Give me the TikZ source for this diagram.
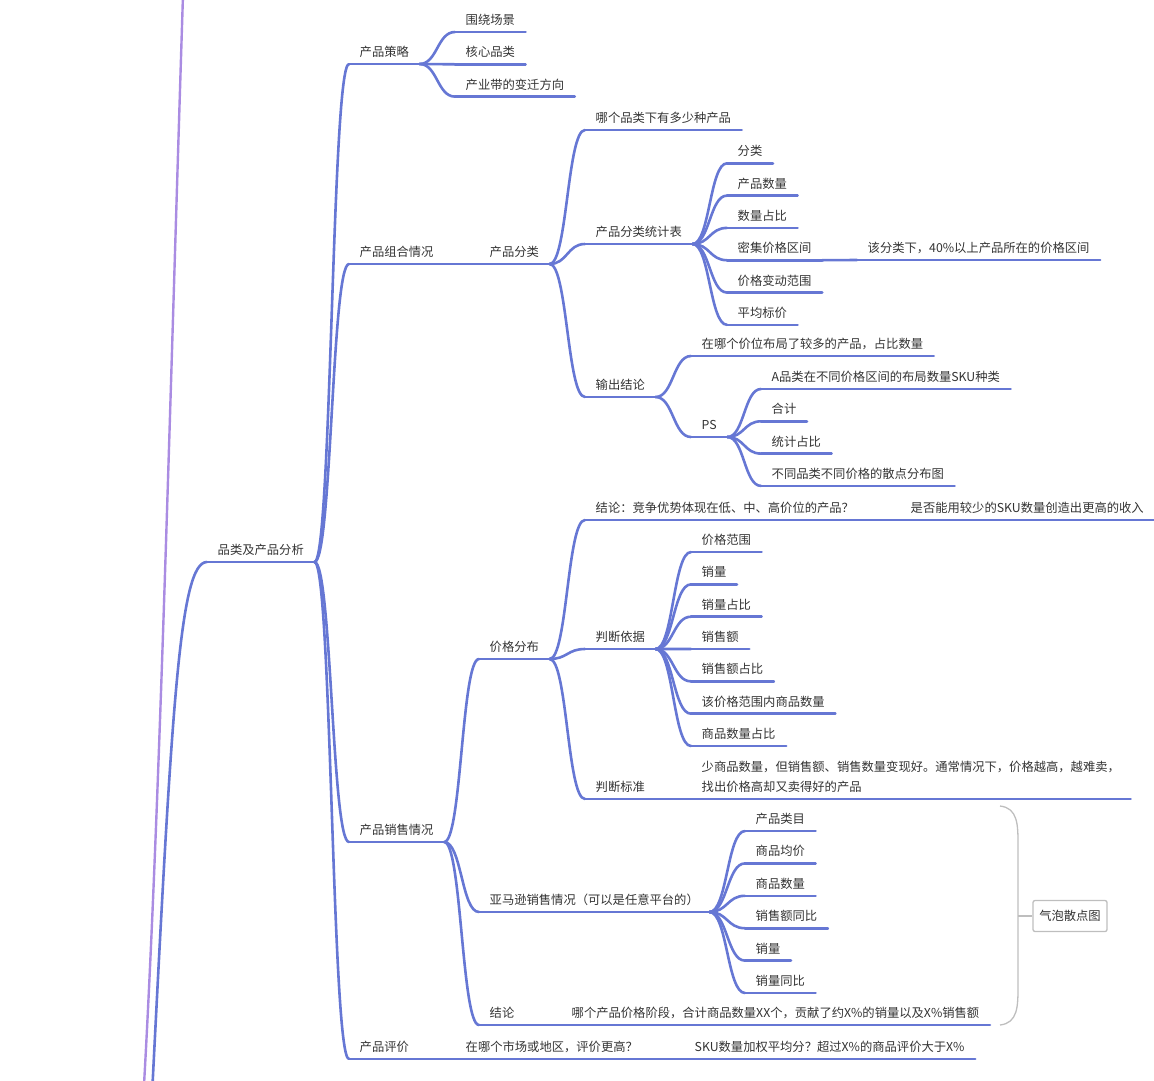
\documentclass[tikz,border=0pt]{standalone}
\usepackage{fontspec}
\newfontfamily\cjkfont{Noto Sans CJK SC}
\usetikzlibrary{calc}
\definecolor{branchblue}{RGB}{102,119,212}
\definecolor{trunkpurple}{RGB}{170,140,226}
\definecolor{textgray}{RGB}{51,51,51}
\definecolor{bracegray}{RGB}{190,190,190}
\tikzset{
  topic/.style={anchor=south west, inner xsep=10.5pt, inner ysep=0pt,
    text height=10pt, text depth=7.3pt, text=textgray,
    font=\cjkfont\fontsize{12.3}{20}\selectfont},
  topicmulti/.style={topic, align=left, text height={}, text depth={}, inner ysep=5.8pt},
  underline/.style={draw=branchblue, line width=2.6pt, line cap=round},
  branch/.style={underline,
    to path={.. controls ($(\tikztostart)!0.5!(\tikztotarget|-\tikztostart)$)
      and ($(\tikztotarget)!0.5!(\tikztostart|-\tikztotarget)$) .. (\tikztotarget)}},
  trunk/.style={draw=trunkpurple, line width=2.4pt},
  bubblebox/.style={draw=bracegray, line width=1.3pt, rounded corners=2pt,
    minimum width=74pt, minimum height=31pt, inner sep=0pt, text=textgray,
    font=\cjkfont\fontsize{12.3}{15}\selectfont},
}

\begin{document}
\begin{tikzpicture}[x=1pt,y=-1pt]
    \useasboundingbox (0,0) rectangle (1154,1080);

    % main topics
    \node[topic] (root)   at (207,562)  {品类及产品分析};
    \node[topic] (strat)  at (349,64)   {产品策略};
    \node[topic] (combo)  at (349,264)  {产品组合情况};
    \node[topic] (sales)  at (349,842)  {产品销售情况};
    \node[topic] (review) at (349,1059) {产品评价};

    % product strategy
    \foreach \t [count=\i] in {围绕场景,核心品类,产业带的变迁方向}
        \node[topic] (s\i) at (455,{-0.3+32.3*\i}) {\t};

    % product mix
    \node[topic] (cls)   at (479,264) {产品分类};
    \node[topic] (q1)    at (585,130) {哪个品类下有多少种产品};
    \node[topic] (table) at (585,244) {产品分类统计表};
    \node[topic] (out)   at (585,397) {输出结论};
    \foreach \t [count=\i] in {分类,产品数量,数量占比,密集价格区间,价格变动范围,平均标价}
        \node[topic] (t\i) at (727,{131+32.3*\i}) {\t};
    \node[topic] (dense) at (857,260) {该分类下，40\%以上产品所在的价格区间};
    \node[topic] (o1) at (691,356) {在哪个价位布局了较多的产品，占比数量};
    \node[topic] (ps) at (691,437) {PS};
    \foreach \t [count=\i] in {A品类在不同价格区间的布局数量SKU种类,合计,统计占比,不同品类不同价格的散点分布图}
        \node[topic] (p\i) at (761,{356.7+32.3*\i}) {\t};

    % product sales
    \node[topic] (price)  at (479,659)  {价格分布};
    \node[topic] (amazon) at (479,912)  {亚马逊销售情况（可以是任意平台的）};
    \node[topic] (concl)  at (479,1025) {结论};
    \node[topic] (cnote)  at (561,1025) {哪个产品价格阶段，合计商品数量XX个，贡献了约X\%的销量以及X\%销售额};
    \node[topic] (c1)     at (585,520)  {结论：竞争优势体现在低、中、高价位的产品？};
    \node[topic] (c2)     at (900,520)  {是否能用较少的SKU数量创造出更高的收入};
    \node[topic] (basis)  at (585,649)  {判断依据};
    \node[topic] (crit)   at (585,799)  {判断标准};
    \node[topicmulti] (critnote) at (691,799)
        {少商品数量，但销售额、销售数量变现好。通常情况下，价格越高，越难卖，\\找出价格高却又卖得好的产品};
    \foreach \t [count=\i] in {价格范围,销量,销量占比,销售额,销售额占比,该价格范围内商品数量,商品数量占比}
        \node[topic] (b\i) at (691,{519.7+32.33*\i}) {\t};
    \foreach \t [count=\i] in {产品类目,商品均价,商品数量,销售额同比,销量,销量同比}
        \node[topic] (a\i) at (745,{798.6+32.4*\i}) {\t};

    % product review
    \node[topic] (r1) at (455,1059) {在哪个市场或地区，评价更高？};
    \node[topic] (r2) at (684,1059) {SKU数量加权平均分？超过X\%的商品评价大于X\%};

    % summary
    \node[bubblebox] (bubble) at (1070,916) {气泡散点图};

    % underlines
    \foreach \n in {root,strat,combo,sales,review,cls,q1,table,out,dense,o1,ps,
                    price,amazon,concl,cnote,c1,c2,basis,crit,critnote,r1,r2,
                    s1,s2,s3,t1,t2,t3,t4,t5,t6,p1,p2,p3,p4,
                    b1,b2,b3,b4,b5,b6,b7,a1,a2,a3,a4,a5,a6}
        \draw[underline] (\n.south west) -- (\n.south east);

    % off-canvas trunks
    \coordinate (topin)  at (183,-5);
    \coordinate (topout) at (144,1085);
    \coordinate (rootin) at (152,1095);
    \draw[trunk] (topin) .. controls (170,400) and (160,800) .. (topout);
    \draw[underline] (rootin) .. controls (172,700) and (180,562) .. (root.south west);

    % branches
    \foreach \c in {strat,combo,sales,review}
        \draw[branch] (root.south east) to (\c.south west);
    \foreach \i in {1,2,3}
        \draw[branch] (strat.south east) to (s\i.south west);
    \draw[branch] (combo.south east) to (cls.south west);
    \foreach \c in {q1,table,out}
        \draw[branch] (cls.south east) to (\c.south west);
    \foreach \i in {1,...,6}
        \draw[branch] (table.south east) to (t\i.south west);
    \draw[branch] (t4.south east) to (dense.south west);
    \foreach \c in {o1,ps}
        \draw[branch] (out.south east) to (\c.south west);
    \foreach \i in {1,...,4}
        \draw[branch] (ps.south east) to (p\i.south west);
    \foreach \c in {price,amazon,concl}
        \draw[branch] (sales.south east) to (\c.south west);
    \draw[branch] (concl.south east) to (cnote.south west);
    \foreach \c in {c1,basis,crit}
        \draw[branch] (price.south east) to (\c.south west);
    \draw[branch] (c1.south east) to (c2.south west);
    \draw[branch] (crit.south east) to (critnote.south west);
    \foreach \i in {1,...,7}
        \draw[branch] (basis.south east) to (b\i.south west);
    \foreach \i in {1,...,6}
        \draw[branch] (amazon.south east) to (a\i.south west);
    \draw[branch] (review.south east) to (r1.south west);
    \draw[branch] (r1.south east) to (r2.south west);

    % bracket round the sales of amazon
    \coordinate (brtop) at (1000,806);
    \coordinate (brbot) at (1000,1025);
    \coordinate (brmid) at (1018,916);
    \draw[draw=bracegray, line width=1.3pt] (brtop) .. controls (1018,808) and (1018,825) .. (1018,845)
        -- (1018,986) .. controls (1018,1006) and (1018,1023) .. (brbot);
    \draw[draw=bracegray, line width=1.3pt] (brmid) -- (bubble.west);
\end{tikzpicture}
\end{document}
